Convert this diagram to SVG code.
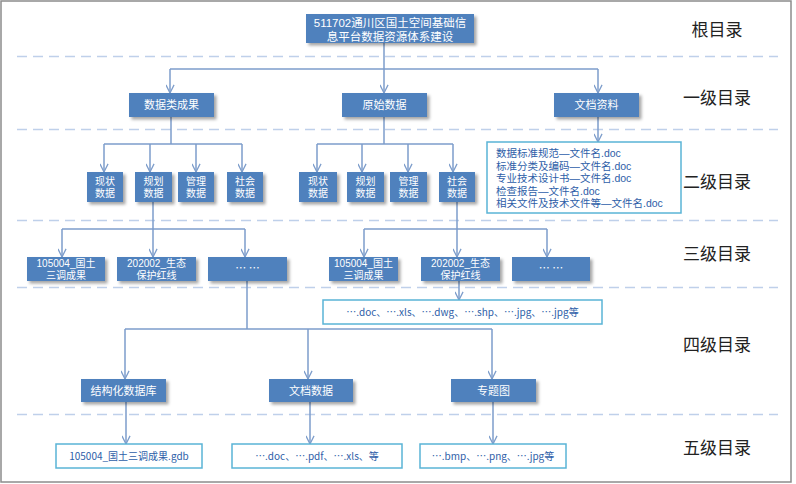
<svg xmlns="http://www.w3.org/2000/svg" width="796" height="484" viewBox="0 0 796 484" xml:lang="zh-CN">
<defs>
<filter id="sh" x="-10%" y="-20%" width="130%" height="150%">
<feDropShadow dx="2.5" dy="2.5" stdDeviation="1.5" flood-color="#000" flood-opacity="0.35"/>
</filter>
<marker id="ar" viewBox="0 0 10 10" refX="10" refY="5" markerWidth="9" markerHeight="9" markerUnits="userSpaceOnUse" orient="auto">
<path d="M1,0.5 L10,5 L1,9.5" fill="none" stroke="#7D9DCB" stroke-width="1.4"/>
</marker>
</defs>
<style>
.bx{fill:#4F81BD;filter:url(#sh)}
.bt{fill:#fff;font-family:"Noto Sans CJK SC","Noto Sans",sans-serif;font-size:11px;text-anchor:middle}
.b2{fill:#fff;font-family:"Liberation Sans","Noto Sans CJK SC",sans-serif;text-anchor:middle}
.fb{fill:#fff;stroke:#5AB4D6;stroke-width:1.5}
.ft{fill:#2E5EA8;font-family:"Noto Sans CJK SC","Noto Sans",sans-serif;font-size:10px}
.f2{fill:#2E5EA8;font-family:"Liberation Sans","Noto Sans CJK SC",sans-serif;font-size:10.5px}
.lv{fill:#222;font-family:"Noto Sans CJK SC",sans-serif;font-size:17px;text-anchor:middle}
.dl{stroke:#BFD0EA;stroke-width:1.3;stroke-dasharray:10 6;fill:none}
.cn{stroke:#7D9DCB;stroke-width:1.5;fill:none}
.ca{stroke:#7D9DCB;stroke-width:1.5;fill:none;marker-end:url(#ar)}
.s2{font-size:10px}
.s3{font-size:10px}
</style>
<rect x="1" y="1" width="790" height="481" fill="#fff" stroke="#8C8C8C" stroke-width="1.5"/>

<g id="dividers">
<line class="dl" x1="17" y1="56.5" x2="778" y2="56.5"/>
<line class="dl" x1="17" y1="129.5" x2="778" y2="129.5"/>
<line class="dl" x1="17" y1="220.5" x2="778" y2="220.5"/>
<line class="dl" x1="17" y1="287.5" x2="778" y2="287.5"/>
<line class="dl" x1="17" y1="414.5" x2="778" y2="414.5"/>
</g>

<g id="levels">
<text class="lv" x="717" y="36">根目录</text>
<text class="lv" x="717" y="104">一级目录</text>
<text class="lv" x="717" y="188">二级目录</text>
<text class="lv" x="717" y="260">三级目录</text>
<text class="lv" x="717" y="351">四级目录</text>
<text class="lv" x="717" y="454">五级目录</text>
</g>

<g id="connectors">
<path class="cn" d="M384,43 V69 M170,69 H598"/>
<path class="ca" d="M170,69 V93"/>
<path class="ca" d="M384,69 V93"/>
<path class="ca" d="M598,69 V93"/>

<path class="cn" d="M171,117 V144 M104,144 H242"/>
<path class="ca" d="M104,144 V172"/>
<path class="ca" d="M150,144 V172"/>
<path class="ca" d="M196,144 V172"/>
<path class="ca" d="M242,144 V172"/>

<path class="cn" d="M384,117 V144 M317,144 H453"/>
<path class="ca" d="M317,144 V172"/>
<path class="ca" d="M362,144 V172"/>
<path class="ca" d="M408,144 V172"/>
<path class="ca" d="M453,144 V172"/>

<path class="ca" d="M598,117 V142"/>

<path class="cn" d="M153,202 V229 M62,229 H245"/>
<path class="ca" d="M62,229 V257"/>
<path class="ca" d="M153,229 V257"/>
<path class="ca" d="M245,229 V257"/>

<path class="cn" d="M457,202 V229 M364,229 H547"/>
<path class="ca" d="M364,229 V257"/>
<path class="ca" d="M457,229 V257"/>
<path class="ca" d="M547,229 V257"/>

<path class="ca" d="M459,281 V300"/>

<path class="cn" d="M247,281 V329 M125,329 H492"/>
<path class="ca" d="M125,329 V379"/>
<path class="ca" d="M308,329 V379"/>
<path class="ca" d="M492,329 V379"/>

<path class="ca" d="M126,402 V444"/>
<path class="ca" d="M310,402 V444"/>
<path class="ca" d="M493,402 V444"/>
</g>

<g id="root">
<rect class="bx" x="306" y="14" width="168" height="29"/>
<text class="b2" style="font-size:11.5px"><tspan x="390" y="27.3">511702通川区国土空间基础信</tspan><tspan x="390" y="40.6">息平台数据资源体系建设</tspan></text>
</g>

<g id="l1-a"><rect class="bx" x="129" y="93" width="85" height="24"/><text class="bt" x="171.5" y="109">数据类成果</text></g>
<g id="l1-b"><rect class="bx" x="342" y="93" width="85" height="24"/><text class="bt" x="384.5" y="109">原始数据</text></g>
<g id="l1-c"><rect class="bx" x="554" y="93" width="85" height="24"/><text class="bt" x="596.5" y="109">文档资料</text></g>

<g id="l2-a1"><rect class="bx" x="87" y="172" width="36" height="30"/><text class="b2 s2"><tspan x="105" y="184.5">现状</tspan><tspan x="105" y="196.5">数据</tspan></text></g>
<g id="l2-a2"><rect class="bx" x="135" y="172" width="37" height="30"/><text class="b2 s2"><tspan x="153.5" y="184.5">规划</tspan><tspan x="153.5" y="196.5">数据</tspan></text></g>
<g id="l2-a3"><rect class="bx" x="178" y="172" width="36" height="30"/><text class="b2 s2"><tspan x="196" y="184.5">管理</tspan><tspan x="196" y="196.5">数据</tspan></text></g>
<g id="l2-a4"><rect class="bx" x="227" y="172" width="36" height="30"/><text class="b2 s2"><tspan x="245" y="184.5">社会</tspan><tspan x="245" y="196.5">数据</tspan></text></g>

<g id="l2-b1"><rect class="bx" x="299" y="172" width="38" height="30"/><text class="b2 s2"><tspan x="318" y="184.5">现状</tspan><tspan x="318" y="196.5">数据</tspan></text></g>
<g id="l2-b2"><rect class="bx" x="347" y="172" width="37" height="30"/><text class="b2 s2"><tspan x="365.5" y="184.5">规划</tspan><tspan x="365.5" y="196.5">数据</tspan></text></g>
<g id="l2-b3"><rect class="bx" x="390" y="172" width="37" height="30"/><text class="b2 s2"><tspan x="408.5" y="184.5">管理</tspan><tspan x="408.5" y="196.5">数据</tspan></text></g>
<g id="l2-b4"><rect class="bx" x="439" y="172" width="36" height="30"/><text class="b2 s2"><tspan x="457" y="184.5">社会</tspan><tspan x="457" y="196.5">数据</tspan></text></g>

<g id="doc-list">
<rect class="fb" x="487" y="142" width="194" height="71"/>
<text class="f2"><tspan x="496" y="157">数据标准规范—文件名.doc</tspan><tspan x="496" y="169.5">标准分类及编码—文件名.doc</tspan><tspan x="496" y="182">专业技术设计书—文件名.doc</tspan><tspan x="496" y="194.5">检查报告—文件名.doc</tspan><tspan x="496" y="207">相关文件及技术文件等—文件名.doc</tspan></text>
</g>

<g id="l3-a1"><rect class="bx" x="27" y="257" width="78" height="24"/><text class="b2 s3"><tspan x="66" y="267">105004_国土</tspan><tspan x="66" y="279">三调成果</tspan></text></g>
<g id="l3-a2"><rect class="bx" x="117" y="257" width="79" height="24"/><text class="b2 s3"><tspan x="156.5" y="267">202002_生态</tspan><tspan x="156.5" y="279">保护红线</tspan></text></g>
<g id="l3-a3"><rect class="bx" x="208" y="257" width="79" height="24"/><text class="bt" x="247.5" y="272">… …</text></g>

<g id="l3-b1"><rect class="bx" x="329" y="257" width="69" height="24"/><text class="b2 s3"><tspan x="363.5" y="267">105004_国土</tspan><tspan x="363.5" y="279">三调成果</tspan></text></g>
<g id="l3-b2"><rect class="bx" x="421" y="257" width="79" height="24"/><text class="b2 s3"><tspan x="460.5" y="267">202002_生态</tspan><tspan x="460.5" y="279">保护红线</tspan></text></g>
<g id="l3-b3"><rect class="bx" x="512" y="257" width="78" height="24"/><text class="bt" x="551" y="272">… …</text></g>

<g id="file-l3"><rect class="fb" x="323" y="300" width="279" height="24"/><text class="ft" x="462.5" y="316" text-anchor="middle">….doc、….xls、….dwg、….shp、….jpg、….jpg等</text></g>

<g id="l4-a"><rect class="bx" x="81" y="379" width="85" height="23"/><text class="bt" x="123.5" y="394.5">结构化数据库</text></g>
<g id="l4-b"><rect class="bx" x="269" y="379" width="84" height="23"/><text class="bt" x="311" y="394.5">文档数据</text></g>
<g id="l4-c"><rect class="bx" x="451" y="379" width="85" height="23"/><text class="bt" x="493.5" y="394.5">专题图</text></g>

<g id="l5-a"><rect class="fb" x="56" y="444" width="146" height="24"/><text class="ft" x="129" y="460" text-anchor="middle">105004_国土三调成果.gdb</text></g>
<g id="l5-b"><rect class="fb" x="232" y="444" width="170" height="24"/><text class="ft" x="317" y="460" text-anchor="middle">….doc、….pdf、….xls、等</text></g>
<g id="l5-c"><rect class="fb" x="420" y="444" width="146" height="24"/><text class="ft" x="493" y="460" text-anchor="middle">….bmp、….png、….jpg等</text></g>
</svg>
